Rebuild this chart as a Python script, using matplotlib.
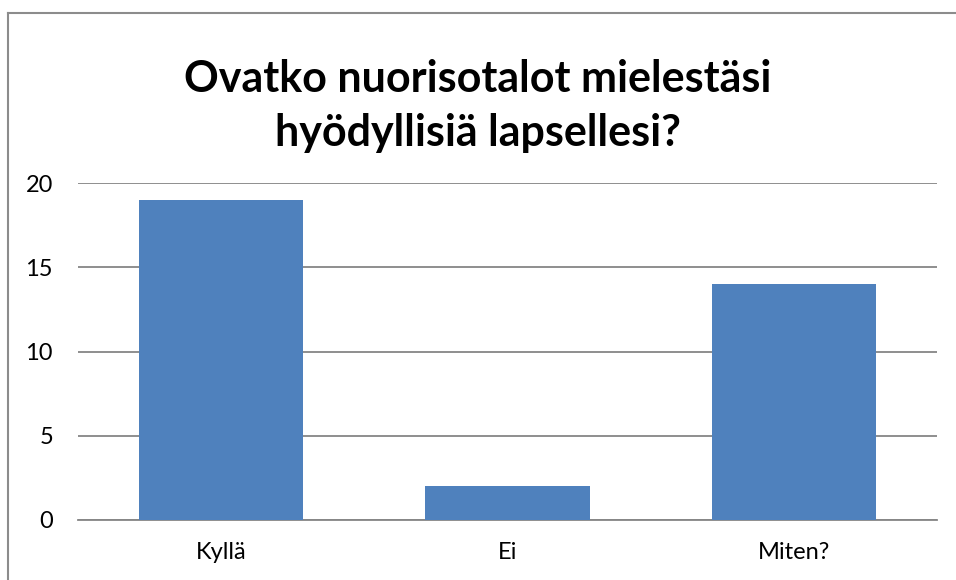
import matplotlib.pyplot as plt
from matplotlib.lines import Line2D

categories = ['Kyllä', 'Ei', 'Miten?']
values = [19, 2, 14]
yticks = [0, 5, 10, 15, 20]
title = 'Ovatko nuorisotalot mielestäsi\nhyödyllisiä lapsellesi?'

plt.rcParams['font.family'] = ['Lato', 'DejaVu Sans']

W, H = 956, 580
fig = plt.figure(figsize=(W / 100, H / 100), dpi=100)
ax = fig.add_axes([78 / W, 1 - 520 / H, (937 - 78) / W, (520 - 183) / H])

x = range(len(categories))
ax.bar(x, values, width=0.573, color='#4F81BD', zorder=3)

ax.set_xlim(-0.5, len(categories) - 0.5)
ax.set_ylim(0, 20)
ax.set_yticks(yticks)
ax.set_xticks(list(x))
ax.set_xticklabels(categories)
ax.yaxis.grid(True, color='#868686', linewidth=1.3, zorder=0)
ax.tick_params(axis='both', length=0, labelsize=17)
ax.tick_params(axis='y', pad=18)
ax.tick_params(axis='x', pad=16)
for side in ['top', 'right', 'left']:
    ax.spines[side].set_visible(False)
ax.spines['bottom'].set_color('#868686')
ax.spines['bottom'].set_linewidth(1.3)

fig.text(478 / W, 1 - 106 / H, title, ha='center', va='center',
         fontsize=31, fontweight='bold', linespacing=1.4)

# chart border (cut off at right and bottom in the original)
fig.add_artist(Line2D([8 / W, 1], [1 - 13 / H, 1 - 13 / H], color='#8c8c8c', lw=1.5))
fig.add_artist(Line2D([8 / W, 8 / W], [0, 1 - 13 / H], color='#8c8c8c', lw=1.5))

fig.savefig('out.png', dpi=100)
